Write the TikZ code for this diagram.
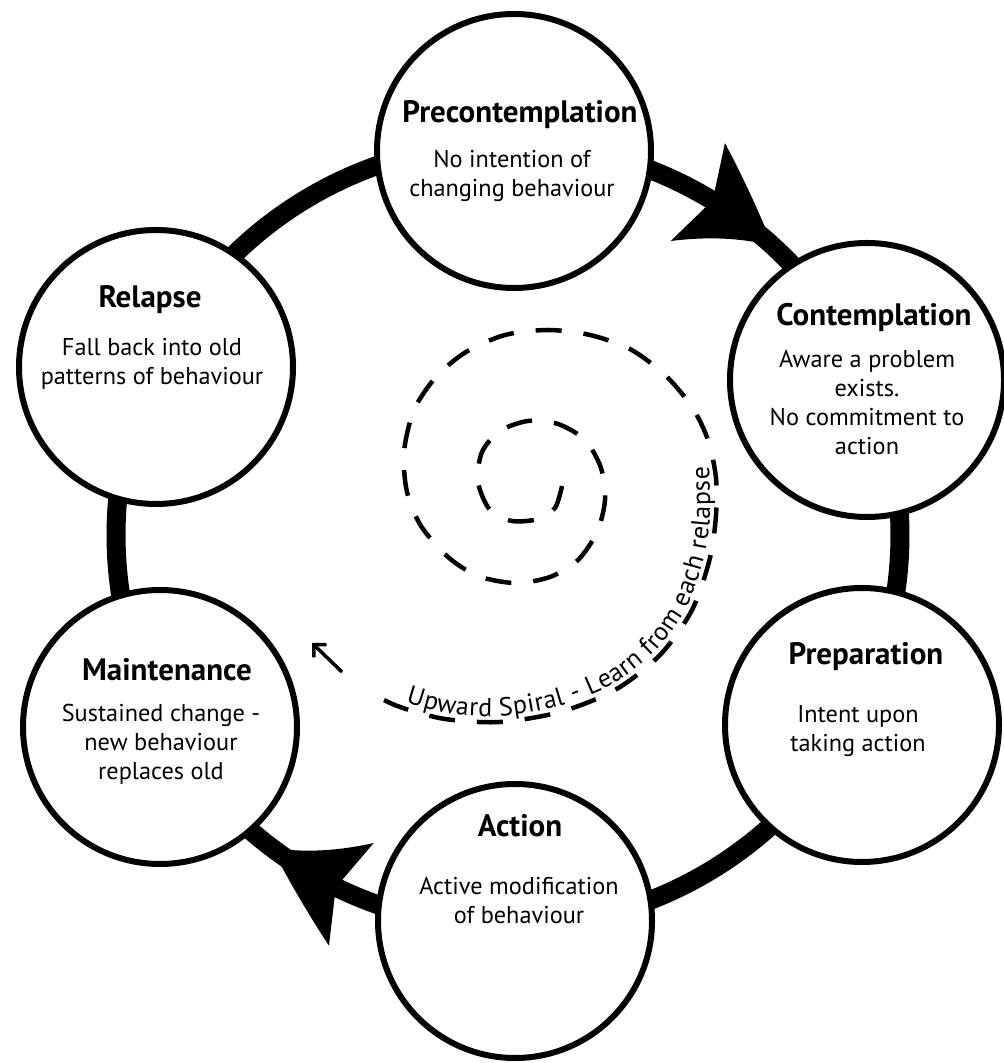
\documentclass[tikz,border=0pt]{standalone}
\usepackage{fontspec}
\setmainfont{PT Sans}
\usetikzlibrary{calc,decorations.markings,decorations.text,arrows.meta,backgrounds}
\newcommand\ringhead{\fill (92,-11) .. controls (72,5) and (40,30) .. (0,56) -- (17,0) -- (0,-56) .. controls (30,-34) and (62,-18) .. (92,-11) -- cycle;}
\begin{document}
\begin{tikzpicture}[x=1pt,y=1pt,
  stage/.style={circle,draw,line width=6pt,fill=white,minimum size=274pt,inner sep=0pt,outer sep=0pt},
  ttl/.style={font=\bfseries\fontsize{31}{34}\selectfont,inner sep=0pt},
  txt/.style={font=\fontsize{24.3}{29}\selectfont,align=center,inner sep=0pt},
  ring/.style={line width=19pt},
  spiral/.style={line width=4.5pt,dash pattern=on 26pt off 22pt},
]
\useasboundingbox (0,0) rectangle (1004,1063);
% stages
\node[stage] (pre) at (514,912) {};
\node[stage] (con) at (867,683) {};
\node[stage] (prep) at (862,338) {};
\node[stage] (act) at (515,142) {};
\node[stage] (maint) at (160,336) {};
\node[stage] (rel) at (156,696) {};
% ring
\coordinate (O) at (508,528);
\coordinate (rpre) at ($(O)+(89.1:392)$);
\coordinate (rcon) at ($(O)+(23.0:392)$);
\coordinate (rprep) at ($(O)+(-28.2:392)$);
\coordinate (ract) at ($(O)+(-89.0:392)$);
\coordinate (rmaint) at ($(O)+(-151.1:392)$);
\coordinate (rrel) at ($(O)+(-205.5:392)$);
\begin{pgfonlayer}{background}
\fill[white] (0,0) rectangle (1004,1063);
\draw[ring,postaction={decorate,decoration={markings,mark=at position 192pt with {\ringhead}}}] (rpre) arc[start angle=89.1,end angle=23.0,radius=392];
\draw[ring] (rcon) arc[start angle=23.0,end angle=-28.2,radius=392];
\draw[ring] (rprep) arc[start angle=-28.2,end angle=-89.0,radius=392];
\draw[ring,postaction={decorate,decoration={markings,mark=at position 168pt with {\ringhead}}}] (ract) arc[start angle=-89.0,end angle=-151.1,radius=392];
\draw[ring] (rmaint) arc[start angle=-151.1,end angle=-205.5,radius=392];
\draw[ring] (rrel) arc[start angle=-205.5,end angle=-270.9,radius=392];
\end{pgfonlayer}
% texts
\node[ttl] (tpre) at (520,948) {Precontemplation};
\node[txt] (bpre) at (512,887) {No intention of\\changing behaviour};
\node[ttl] (tcon) at (874,745) {Contemplation};
\node[txt] (bcon) at (867,660) {Aware a problem\\exists.\\No commitment to\\action};
\node[ttl] (tprep) at (866,406) {Preparation};
\node[txt] (bprep) at (858,332) {Intent upon\\taking action};
\node[ttl] (tact) at (520,237) {Action};
\node[txt] (bact) at (519,162) {Active modification\\of behaviour};
\node[ttl] (tmaint) at (167,393) {Maintenance};
\node[txt] (bmaint) at (161,319) {Sustained change -\\new behaviour\\replaces old};
\node[ttl] (trel) at (150,763) {Relapse};
\node[txt] (brel) at (152,699) {Fall back into old\\patterns of behaviour};
% spiral
\draw[spiral] plot[smooth] coordinates {
(562,577) (555,555) (538,544) (512,542) (490,553) (478,581) (482,611) (500,632)
(528,642) (558,639) (585,623) (601,595) (605,563) (597,531) (578,503) (550,486)
(515,480) (478,487) (448,506) (421,537) (407,571) (404,611) (414,653) (436,686)
(466,711) (505,728) (548,733) (590,728) (630,714) (665,688) (692,656) (708,623)
(716,585) (716,548) (710,505) (692,453) (660,408) (615,373) (560,351) (500,341)
(445,344) (400,356) (372,369)};
\path[decorate,decoration={text along path,raise=6pt,text align=fit to path,
  text={|\fontsize{26}{26}\selectfont|Upward Spiral - Learn from each relapse}}]
  plot[smooth] coordinates {(404,355) (445,344) (500,341) (560,351) (615,373) (660,408) (692,453) (710,505) (716,548) (715,597)};
\coordinate (sa) at (342,391);
\coordinate (sb) at (312,420);
\draw[line width=3.5pt,-{Straight Barb[length=9pt,width=18pt]}] (sa) -- (sb);
\end{tikzpicture}
\end{document}
